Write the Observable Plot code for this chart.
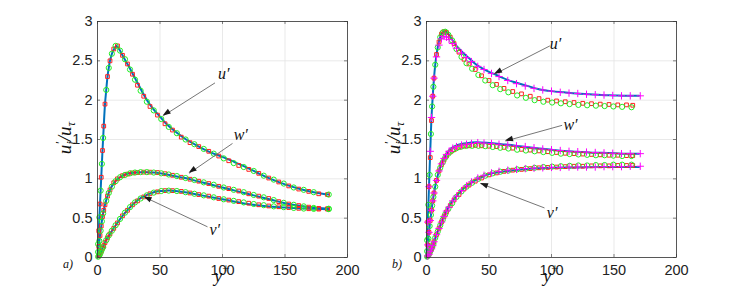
<!DOCTYPE html>
<html>
<head>
<meta charset="utf-8">
<script src="https://cdn.jsdelivr.net/npm/d3@7"></script>
<script src="https://cdn.jsdelivr.net/npm/@observablehq/plot@0.6"></script>
<style>
  html, body { margin: 0; padding: 0; background: #fff; overflow: hidden; }
  #wrap { position: relative; width: 747px; height: 291px; }
  .panel { position: absolute; top: 0; width: 373px; height: 291px; }
  .panel svg { background: transparent; overflow: visible; max-width: none; }
</style>
</head>
<body>
<div id="wrap">
  <div class="panel" id="pa" style="left:0px"></div>
  <div class="panel" id="pb" style="left:329px"></div>
</div>
<script>
// ---------- axes ----------
const xTicks = [0, 50, 100, 150, 200];
const yTicks = [0, 0.5, 1, 1.5, 2, 2.5, 3];

// ---------- panel a) : DNS line (blue) ----------
const aLineUX = [0,1,2,3,4,5,6,7,8,9,10,12,14,15,16,18,20,25,30,35,40,45,50,55,60,70,80,90,100,110,120,130,140,150,160,170,180,185];
const aLineU  = [0,0.34,0.68,1.02,1.36,1.67,1.95,2.13,2.30,2.41,2.50,2.61,2.67,2.69,2.68,2.63,2.57,2.43,2.28,2.13,1.99,1.88,1.79,1.70,1.63,1.51,1.42,1.34,1.28,1.21,1.14,1.06,0.99,0.93,0.88,0.84,0.81,0.80];
const aLineWX = [0,1,2,3,4,5,6,8,10,12,15,18,20,25,30,35,40,45,50,60,70,80,90,100,110,120,130,140,150,160,170,180,185];
const aLineW  = [0,0.14,0.28,0.40,0.52,0.60,0.67,0.78,0.86,0.92,0.98,1.02,1.04,1.07,1.08,1.085,1.085,1.08,1.07,1.04,1.01,0.97,0.93,0.89,0.85,0.81,0.77,0.73,0.69,0.66,0.64,0.625,0.62];
const aLineVX = [0,2,4,6,8,10,12,15,20,25,30,35,40,45,50,55,60,70,80,90,100,110,120,130,140,150,160,170,180,185];
const aLineV  = [0,0.04,0.12,0.19,0.25,0.30,0.35,0.42,0.53,0.62,0.70,0.76,0.80,0.83,0.845,0.85,0.85,0.83,0.80,0.77,0.74,0.71,0.68,0.66,0.645,0.635,0.625,0.62,0.615,0.615];

// panel a) red squares
const aRedX = [1,2,3,4,5,6,8,10,13,16,20,24,28,32,37,42,48,54,60,67,74,81,89,97,105,113,121,129,137,145,153,161,169,177,184];
const aRedU = [0.34,0.68,1.02,1.36,1.67,1.95,2.30,2.50,2.65,2.69,2.57,2.46,2.33,2.19,2.05,1.92,1.81,1.70,1.62,1.53,1.46,1.41,1.35,1.29,1.23,1.17,1.12,1.07,1.01,0.96,0.91,0.87,0.84,0.81,0.80];
const aRedW = [0.14,0.28,0.40,0.52,0.60,0.67,0.78,0.86,0.95,1.00,1.04,1.06,1.075,1.08,1.085,1.085,1.08,1.065,1.045,1.02,0.995,0.97,0.94,0.905,0.875,0.845,0.81,0.78,0.75,0.71,0.68,0.66,0.64,0.625,0.62];
const aRedV = [0.02,0.04,0.08,0.12,0.15,0.19,0.25,0.30,0.37,0.44,0.53,0.60,0.67,0.72,0.77,0.81,0.835,0.85,0.85,0.84,0.82,0.80,0.78,0.75,0.73,0.71,0.69,0.67,0.655,0.645,0.635,0.625,0.62,0.615,0.615];

// panel a) green circles
const aGrnX = [0.5,1.5,2.5,3.5,4.5,7,9,11.5,14.5,18,22,26,30,34.5,39.5,45,51,57,63.5,70.5,77.5,85,93,101,109,117,125,133,141,149,157,165,173,185];
const aGrnU = [0.17,0.51,0.85,1.19,1.52,2.13,2.41,2.59,2.69,2.63,2.52,2.39,2.26,2.12,1.98,1.87,1.76,1.66,1.58,1.50,1.44,1.38,1.32,1.26,1.20,1.15,1.10,1.04,0.99,0.94,0.89,0.86,0.83,0.80];
const aGrnW = [0.07,0.21,0.34,0.46,0.56,0.72,0.82,0.90,0.97,1.02,1.05,1.07,1.08,1.085,1.085,1.08,1.07,1.055,1.035,1.01,0.985,0.955,0.925,0.89,0.86,0.83,0.795,0.765,0.73,0.695,0.67,0.65,0.63,0.62];
const aGrnV = [0.01,0.03,0.06,0.10,0.13,0.22,0.28,0.34,0.41,0.49,0.57,0.64,0.70,0.75,0.79,0.825,0.845,0.85,0.845,0.83,0.81,0.79,0.765,0.74,0.72,0.70,0.68,0.665,0.65,0.64,0.63,0.622,0.618,0.615];

// ---------- panel b) : DNS line (blue) ----------
const bLineUX = [0,1,2,3,4,5,6,7,8,10,12,14,15,16,18,20,25,30,35,40,45,50,56,60,70,80,90,100,110,120,130,140,150,160,170];
const bLineU  = [0,0.45,0.90,1.35,1.78,2.05,2.28,2.45,2.58,2.75,2.84,2.87,2.875,2.87,2.83,2.78,2.67,2.59,2.52,2.45,2.40,2.36,2.32,2.29,2.23,2.185,2.14,2.115,2.10,2.085,2.075,2.065,2.06,2.055,2.055];
const bLineWX = [0,1,2,3,4,5,6,8,10,12,15,18,20,25,30,35,40,50,60,70,80,90,100,110,120,130,140,150,160,170];
const bLineW  = [0,0.16,0.32,0.47,0.60,0.72,0.82,0.98,1.10,1.19,1.29,1.36,1.39,1.43,1.45,1.46,1.465,1.455,1.44,1.425,1.405,1.385,1.37,1.355,1.345,1.335,1.33,1.325,1.32,1.32];
const bLineVX = [0,2,4,6,8,10,12,15,20,25,30,35,40,45,50,60,70,80,90,100,120,140,170];
const bLineV  = [0,0.04,0.11,0.20,0.29,0.37,0.45,0.56,0.70,0.80,0.88,0.94,0.99,1.03,1.06,1.09,1.11,1.125,1.135,1.14,1.145,1.15,1.15];

// panel b) magenta plus
const bMagX = [1,2,3,4,5,6,8,10,12,14,16,18,21,24,28,32,36,41,46,52,58,65,72,79,86,93,100,107,114,121,128,135,142,149,156,163,171];
const bMagU = [0.45,0.90,1.35,1.78,2.05,2.28,2.55,2.70,2.78,2.81,2.80,2.77,2.72,2.66,2.60,2.54,2.49,2.43,2.39,2.34,2.30,2.25,2.21,2.18,2.15,2.13,2.115,2.10,2.09,2.085,2.075,2.07,2.065,2.06,2.055,2.055,2.055];
const bMagW = [0.16,0.32,0.47,0.60,0.72,0.82,0.98,1.10,1.19,1.26,1.31,1.35,1.39,1.41,1.43,1.44,1.45,1.46,1.455,1.45,1.44,1.43,1.42,1.41,1.395,1.38,1.37,1.36,1.35,1.345,1.34,1.335,1.33,1.325,1.32,1.32,1.32];
const bMagV = [0.02,0.04,0.08,0.11,0.15,0.20,0.29,0.37,0.45,0.52,0.59,0.64,0.72,0.78,0.85,0.91,0.96,1.01,1.045,1.075,1.095,1.11,1.12,1.13,1.135,1.14,1.145,1.145,1.15,1.15,1.15,1.15,1.155,1.155,1.155,1.16,1.16];

// panel b) red squares
const bRedX = [1,2,3,4,5,6,8,10,12,14,16,19,22,26,30,34,39,44,50,56,62,69,76,83,90,97,104,111,118,125,132,139,146,153,160,165];
const bRedU = [0.45,0.90,1.27,1.74,2.05,2.28,2.58,2.74,2.84,2.87,2.86,2.80,2.72,2.61,2.52,2.46,2.39,2.31,2.25,2.20,2.15,2.11,2.08,2.05,2.02,2.00,1.99,1.98,1.97,1.96,1.955,1.95,1.945,1.94,1.94,1.935];
const bRedW = [0.16,0.32,0.47,0.60,0.72,0.82,0.98,1.10,1.18,1.24,1.29,1.34,1.37,1.40,1.415,1.42,1.425,1.42,1.415,1.41,1.40,1.39,1.375,1.365,1.355,1.345,1.335,1.325,1.32,1.315,1.31,1.305,1.30,1.30,1.295,1.295];
const bRedV = [0.02,0.04,0.08,0.11,0.15,0.20,0.29,0.37,0.45,0.52,0.58,0.66,0.73,0.80,0.87,0.92,0.97,1.01,1.05,1.075,1.095,1.11,1.12,1.13,1.14,1.145,1.15,1.155,1.16,1.16,1.165,1.165,1.165,1.17,1.17,1.17];

// panel b) green circles
const bGrnX = [0.5,1.5,2.5,3.5,4.5,5.5,7,9,11,13,15,17.5,20.5,24,28,32,36.5,41.5,47,53,59,65.5,72.5,79.5,86.5,93.5,100.5,107.5,114.5,121.5,128.5,135.5,142.5,149.5,156.5,164];
const bGrnU = [0.22,0.67,1.05,1.57,1.92,2.17,2.45,2.67,2.80,2.86,2.87,2.83,2.76,2.65,2.55,2.47,2.40,2.32,2.25,2.19,2.14,2.10,2.06,2.03,2.00,1.98,1.97,1.96,1.95,1.94,1.935,1.93,1.925,1.92,1.915,1.91];
const bGrnW = [0.08,0.24,0.40,0.54,0.66,0.77,0.90,1.05,1.14,1.21,1.27,1.32,1.36,1.39,1.41,1.42,1.42,1.42,1.415,1.405,1.395,1.385,1.37,1.36,1.35,1.34,1.33,1.32,1.315,1.31,1.305,1.30,1.30,1.295,1.29,1.29];
const bGrnV = [0.01,0.03,0.06,0.10,0.13,0.17,0.25,0.33,0.41,0.48,0.55,0.62,0.69,0.77,0.84,0.90,0.95,1.00,1.04,1.07,1.09,1.105,1.12,1.13,1.14,1.15,1.155,1.16,1.165,1.17,1.17,1.175,1.175,1.18,1.18,1.18];

// ---------- annotations (data coordinates) ----------
const annLabels = ["u\u2032", "w\u2032", "v\u2032"];
const aLabX = [101, 114.6, 93.8], aLabY = [2.34, 1.56, 0.35];
const aArrX1 = [94, 108, 88],    aArrY1 = [2.22, 1.45, 0.39];
const aArrX2 = [52.5, 73.3, 37.3], aArrY2 = [1.80, 1.07, 0.77];
const bLabX = [103.2, 115.2, 100.5], bLabY = [2.72, 1.69, 0.57];
const bArrX1 = [98.7, 108.5, 94.4],  bArrY1 = [2.69, 1.68, 0.63];
const bArrX2 = [54.4, 63.2, 43.2],   bArrY2 = [2.33, 1.48, 0.94];

// ---------- helpers ----------
const zip = (xs, ys, s) => xs.map((x, i) => ({x, y: ys[i], s}));
const W = 373, H = 291, ML = 97, MR = 26, MT = 21, MB = 34;
const innerW = W - ML - MR, innerH = H - MT - MB;
const serif = "'Liberation Serif', 'DejaVu Serif', serif";
const sans = "'Liberation Sans', Arial, Helvetica, sans-serif";

function panel(cfg) {
  const lines = [].concat(
    zip(cfg.lux, cfg.lu, "u"), zip(cfg.lwx, cfg.lw, "w"), zip(cfg.lvx, cfg.lv, "v"));
  const reds = [].concat(zip(cfg.rx, cfg.ru, "u"), zip(cfg.rx, cfg.rw, "w"), zip(cfg.rx, cfg.rv, "v"));
  const grns = [].concat(zip(cfg.gx, cfg.gu, "u"), zip(cfg.gx, cfg.gw, "w"), zip(cfg.gx, cfg.gv, "v"));
  const mags = cfg.mx ? [].concat(zip(cfg.mx, cfg.mu, "u"), zip(cfg.mx, cfg.mw, "w"), zip(cfg.mx, cfg.mv, "v")) : [];
  const arrows = annLabels.map((t, i) => ({x1: cfg.ax1[i], y1: cfg.ay1[i], x2: cfg.ax2[i], y2: cfg.ay2[i]}));
  const labels = annLabels.map((t, i) => ({x: cfg.lx[i], y: cfg.ly[i], t}));

  const marks = [
    Plot.gridX(xTicks, {stroke: "#e3e3e3", strokeOpacity: 1, strokeWidth: 0.8}),
    Plot.gridY(yTicks, {stroke: "#e3e3e3", strokeOpacity: 1, strokeWidth: 0.8}),
    Plot.tickX(xTicks, {x: d => d, insetTop: innerH - 3, stroke: "#333", strokeWidth: 0.6}),
    Plot.tickX(xTicks, {x: d => d, insetBottom: innerH - 3, stroke: "#333", strokeWidth: 0.6}),
    Plot.tickY(yTicks, {y: d => d, insetRight: innerW - 3, stroke: "#333", strokeWidth: 0.6}),
    Plot.tickY(yTicks, {y: d => d, insetLeft: innerW - 3, stroke: "#333", strokeWidth: 0.6}),
    Plot.axisX({ticks: xTicks, tickSize: 0, tickPadding: 7, label: null, fontSize: 14.5, fontFamily: sans, color: "#222"}),
    Plot.axisY({ticks: yTicks, tickSize: 0, tickPadding: 5, tickFormat: d => String(d), label: null, fontSize: 14.5, fontFamily: sans, color: "#222"}),
    Plot.line(lines, {x: "x", y: "y", z: "s", stroke: "#0072BD", strokeWidth: 2, curve: "catmull-rom"}),
    Plot.dot(reds, {x: "x", y: "y", symbol: "square", r: 2.1, stroke: "#ff2020", fill: "none", strokeWidth: 1}),
    Plot.dot(grns, {x: "x", y: "y", symbol: "circle", r: 2.6, stroke: "#22ee22", fill: "none", strokeWidth: 1}),
  ];
  if (mags.length) marks.push(Plot.dot(mags, {x: "x", y: "y", symbol: "plus", r: 2.5, stroke: "#ff00ff", strokeWidth: 1}));
  marks.push(
    Plot.link(arrows, {x1: "x1", y1: "y1", x2: "x2", y2: "y2", stroke: "#666", strokeWidth: 0.9}),
    Plot.text(labels, {x: "x", y: "y", text: "t", fontFamily: serif, fontStyle: "italic", fontSize: 16, fill: "#111"}),
    Plot.frame({stroke: "#333", strokeWidth: 0.8})
  );

  const svg = Plot.plot({
    width: W, height: H,
    marginLeft: ML, marginRight: MR, marginTop: MT, marginBottom: MB,
    style: {background: "transparent", overflow: "visible"},
    x: {domain: [0, 200]},
    y: {domain: [0, 3]},
    marks
  });

  const s = d3.select(svg);
  // filled arrow heads, placed through the plot's own scales
  const sx = svg.scale("x"), sy = svg.scale("y");
  arrows.forEach(a => {
    const x1 = sx.apply(a.x1), y1 = sy.apply(a.y1), x2 = sx.apply(a.x2), y2 = sy.apply(a.y2);
    const ang = Math.atan2(y2 - y1, x2 - x1), L = 8, w = 2.8;
    const bx = x2 - L * Math.cos(ang), by = y2 - L * Math.sin(ang);
    const px = -Math.sin(ang) * w, py = Math.cos(ang) * w;
    s.append("path")
      .attr("d", `M${x2},${y2}L${bx + px},${by + py}L${bx - px},${by - py}Z`)
      .attr("fill", "#1a1a1a");
  });

  // y label: u'_i / u_tau
  const yl = s.append("text")
    .attr("transform", "translate(71,138) rotate(-90)")
    .attr("text-anchor", "middle")
    .attr("font-family", serif).attr("font-style", "italic").attr("font-size", 19).attr("fill", "#111");
  yl.append("tspan").text("u");
  yl.append("tspan").attr("dy", -7).attr("font-size", 13).text("\u2032");
  yl.append("tspan").attr("dx", -3).attr("dy", 11).attr("font-size", 13).text("i");
  yl.append("tspan").attr("dy", -4).text("/u");
  yl.append("tspan").attr("dy", 4).attr("font-size", 13).text("\u03C4");

  // x label: y^+
  const xl = s.append("text")
    .attr("x", ML + innerW / 2).attr("y", 282)
    .attr("text-anchor", "middle")
    .attr("font-family", serif).attr("font-style", "italic").attr("font-size", 18).attr("fill", "#111");
  xl.append("tspan").text("y");
  xl.append("tspan").attr("dy", -9).attr("font-size", 13).attr("font-style", "normal").text("+");

  // panel letter
  s.append("text").attr("x", 68).attr("y", 268)
    .attr("font-family", serif).attr("font-style", "italic").attr("font-size", 12).attr("fill", "#111")
    .text(cfg.letter);
  return svg;
}

document.getElementById("pa").appendChild(panel({
  letter: "a)",
  lux: aLineUX, lu: aLineU, lwx: aLineWX, lw: aLineW, lvx: aLineVX, lv: aLineV,
  rx: aRedX, ru: aRedU, rw: aRedW, rv: aRedV,
  gx: aGrnX, gu: aGrnU, gw: aGrnW, gv: aGrnV,
  ax1: aArrX1, ay1: aArrY1, ax2: aArrX2, ay2: aArrY2, lx: aLabX, ly: aLabY
}));
document.getElementById("pb").appendChild(panel({
  letter: "b)",
  lux: bLineUX, lu: bLineU, lwx: bLineWX, lw: bLineW, lvx: bLineVX, lv: bLineV,
  rx: bRedX, ru: bRedU, rw: bRedW, rv: bRedV,
  gx: bGrnX, gu: bGrnU, gw: bGrnW, gv: bGrnV,
  mx: bMagX, mu: bMagU, mw: bMagW, mv: bMagV,
  ax1: bArrX1, ay1: bArrY1, ax2: bArrX2, ay2: bArrY2, lx: bLabX, ly: bLabY
}));
</script>
</body>
</html>
